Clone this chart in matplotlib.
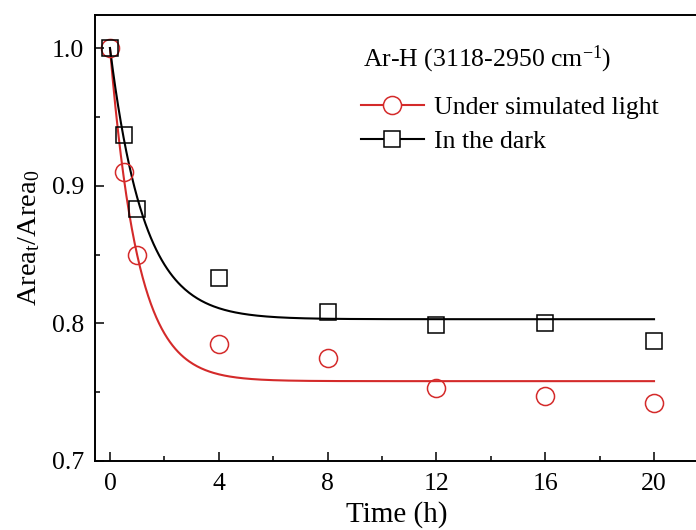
import numpy as np
import matplotlib
matplotlib.use("Agg")
import matplotlib.pyplot as plt
from matplotlib.ticker import MultipleLocator

plt.rcParams["font.family"] = ["Liberation Serif", "DejaVu Serif"]
plt.rcParams["mathtext.fontset"] = "custom"
plt.rcParams["mathtext.rm"] = "Liberation Serif"
plt.rcParams["mathtext.it"] = "Liberation Serif:italic"

# measured points
time_h = [0, 0.5, 1, 4, 8, 12, 16, 20]
light_vals = [1.0, 0.910, 0.850, 0.785, 0.775, 0.753, 0.747, 0.742]
dark_vals = [1.0, 0.937, 0.883, 0.833, 0.808, 0.799, 0.800, 0.787]

# exponential fit parameters: plateau, amplitude, tau (h)
light_fit = (0.758, 0.242, 1.03)
dark_fit = (0.803, 0.197, 1.25)

red = "#d42a2a"

fig = plt.figure(figsize=(6.96, 5.30), dpi=100)
ax = fig.add_axes([0.1365, 0.1302, 0.8665, 0.8415])

t = np.linspace(0, 20, 400)
for (y0, a, tau), c in [(light_fit, red), (dark_fit, "black")]:
    ax.plot(t, y0 + a * np.exp(-t / tau), color=c, lw=1.5, zorder=2)

ax.plot(time_h, light_vals, "o", ms=13, mfc="none", mec=red, mew=1.1, zorder=3)
ax.plot(time_h, dark_vals, "s", ms=11, mfc="none", mec="black", mew=1.1, zorder=3)

# legend proxies
h1, = ax.plot([], [], "-o", color=red, ms=13, mfc="white", mec=red, mew=1.1, lw=1.5,
              label="Under simulated light")
h2, = ax.plot([], [], "-s", color="black", ms=11, mfc="white", mec="black", mew=1.1, lw=1.5,
              label="In the dark")
ax.legend(handles=[h1, h2], frameon=False, fontsize=18.5, handlelength=2.45,
          handletextpad=0.4, labelspacing=0.42, borderpad=0,
          loc="upper left", bbox_to_anchor=(348 / 696, 1 - 83 / 530),
          bbox_transform=fig.transFigure)
fig.text(363 / 696, 1 - 66 / 530, "Ar-H (3118-2950 cm$^{-1}$)", fontsize=18.5, va="baseline")

ax.set_xlim(-0.55, 21.62)
ax.set_ylim(0.7, 1.024)
ax.xaxis.set_major_locator(MultipleLocator(4))
ax.xaxis.set_minor_locator(MultipleLocator(2))
ax.yaxis.set_major_locator(MultipleLocator(0.1))
ax.yaxis.set_minor_locator(MultipleLocator(0.05))
ax.tick_params(which="both", direction="in", labelsize=18.5, width=1.1)
ax.tick_params(which="major", length=6.5)
ax.tick_params(which="minor", length=3.5)
ax.tick_params(axis="x", pad=9)
ax.tick_params(axis="y", pad=8)
ax.spines["right"].set_visible(False)
for s in ["left", "bottom", "top"]:
    ax.spines[s].set_linewidth(1.4)

ax.set_xlabel("Time (h)", fontsize=21, labelpad=4)
ax.set_ylabel("Area$_\\mathrm{t}$/Area$_0$", fontsize=20.5, labelpad=7)

fig.savefig("out.png", dpi=100)
